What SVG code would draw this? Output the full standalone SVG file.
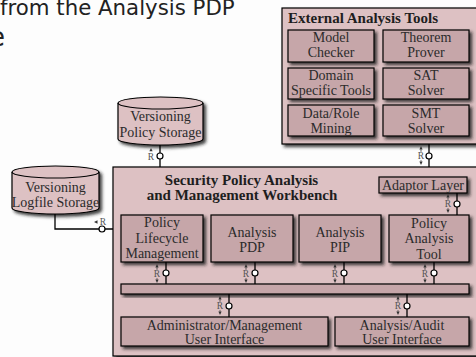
<svg xmlns="http://www.w3.org/2000/svg" xmlns:xlink="http://www.w3.org/1999/xlink" width="476" height="357" viewBox="0 0 476 357">
<style>
.outer{fill:#ddc1c3;stroke:#000;stroke-width:1.2}
.inner{fill:#c6a6a9;stroke:#000;stroke-width:1.2}
.t{font-family:"Liberation Serif",serif;font-size:14px;fill:#2b2b2b;text-anchor:middle}
.b{font-weight:bold;fill:#1e1e1e}
.cap{font-family:"DejaVu Sans",sans-serif;fill:#222}
.ln{fill:none;stroke:#000;stroke-width:1.3}
.port{fill:#fff;stroke:#000;stroke-width:1.2}
.rl{font-family:"Liberation Serif",serif;font-size:9.5px;fill:#555;text-anchor:middle}
.ah{fill:#333}
.st{stroke:#333;stroke-width:0.8}
</style>
<defs>
<filter id="sh" x="-10%" y="-10%" width="130%" height="150%">
<feDropShadow dx="2.5" dy="2.5" stdDeviation="1.4" flood-color="#1a1a1a" flood-opacity="0.85"/>
</filter>
<g id="rBi">
<text class="rl" x="0" y="3.3">R</text>
<path class="ah" d="M0,-10 L-1.6,-6.5 L1.6,-6.5 Z"/>
<line class="st" x1="0" y1="-6.5" x2="0" y2="-4.2"/>
<path class="ah" d="M0,9 L-1.6,5.5 L1.6,5.5 Z"/>
<line class="st" x1="0" y1="4.2" x2="0" y2="5.5"/>
</g>
<g id="rUp">
<text class="rl" x="0" y="3.3">R</text>
<path class="ah" d="M0,-9 L-1.6,-5.8 L1.6,-5.8 Z"/>
</g>
<g id="rLeft">
<text class="rl" x="0" y="3.3">R</text>
<path class="ah" d="M-9,0 L-5.5,-1.7 L-5.5,1.7 Z"/>
</g>
</defs>

<rect width="476" height="357" fill="#fdfdfd"/>

<g id="caption">
<text class="cap" x="0" y="15" font-size="21.3">from the Analysis PDP</text>
<text class="cap" x="5" y="46" font-size="26" text-anchor="end">e</text>
</g>

<g id="external-tools">
<rect class="outer" x="282" y="8" width="200" height="136" filter="url(#sh)"/>
<text class="t b" x="288" y="22.5" style="text-anchor:start;font-size:15px">External Analysis Tools</text>
</g>
<g id="model-checker">
<rect class="inner" x="288" y="30" width="86" height="32" filter="url(#sh)"/>
<text class="t" x="331" y="41.5">Model</text>
<text class="t" x="331" y="56.5">Checker</text>
</g>
<g id="theorem-prover">
<rect class="inner" x="383" y="30" width="86" height="32" filter="url(#sh)"/>
<text class="t" x="426" y="41.5">Theorem</text>
<text class="t" x="426" y="56.5">Prover</text>
</g>
<g id="domain-tools">
<rect class="inner" x="288" y="68" width="86" height="31" filter="url(#sh)"/>
<text class="t" x="331" y="79.5">Domain</text>
<text class="t" x="331" y="94.5">Specific Tools</text>
</g>
<g id="sat-solver">
<rect class="inner" x="383" y="68" width="86" height="31" filter="url(#sh)"/>
<text class="t" x="426" y="79.5">SAT</text>
<text class="t" x="426" y="94.5">Solver</text>
</g>
<g id="data-role-mining">
<rect class="inner" x="288" y="105" width="86" height="31" filter="url(#sh)"/>
<text class="t" x="331" y="117.5">Data/Role</text>
<text class="t" x="331" y="132.5">Mining</text>
</g>
<g id="smt-solver">
<rect class="inner" x="383" y="105" width="86" height="31" filter="url(#sh)"/>
<text class="t" x="426" y="117.5">SMT</text>
<text class="t" x="426" y="132.5">Solver</text>
</g>

<g id="policy-storage">
<path class="outer" d="M118,103 A42.5,6 0 0 1 203,103 L203,139 A42.5,6 0 0 1 118,139 Z" filter="url(#sh)"/>
<path class="ln" style="stroke-width:1.2" d="M118,103 A42.5,6 0 0 0 203,103"/>
<text class="t" x="160.5" y="121">Versioning</text>
<text class="t" x="160.5" y="136.5">Policy Storage</text>
</g>

<g id="logfile-storage">
<path class="outer" d="M12,172 A43.5,6 0 0 1 99,172 L99,208 A43.5,6 0 0 1 12,208 Z" filter="url(#sh)"/>
<path class="ln" style="stroke-width:1.2" d="M12,172 A43.5,6 0 0 0 99,172"/>
<text class="t" x="55.5" y="192">Versioning</text>
<text class="t" x="55.5" y="207">Logfile Storage</text>
</g>

<g id="workbench">
<rect class="outer" x="113" y="167" width="370" height="189" filter="url(#sh)"/>
<text class="t b" x="241.5" y="185" style="font-size:15px">Security Policy Analysis</text>
<text class="t b" x="242" y="200" style="font-size:15px">and Management Workbench</text>
</g>
<g id="adaptor-layer">
<rect class="inner" x="379" y="177" width="88" height="16" filter="url(#sh)"/>
<text class="t" x="423" y="189.5">Adaptor Layer</text>
</g>
<g id="policy-lifecycle">
<rect class="inner" x="121" y="215" width="82" height="47" filter="url(#sh)"/>
<text class="t" x="162" y="227">Policy</text>
<text class="t" x="162" y="242.5">Lifecycle</text>
<text class="t" x="162" y="258">Management</text>
</g>
<g id="analysis-pdp">
<rect class="inner" x="211" y="215" width="82" height="47" filter="url(#sh)"/>
<text class="t" x="252" y="236.5">Analysis</text>
<text class="t" x="252" y="251.5">PDP</text>
</g>
<g id="analysis-pip">
<rect class="inner" x="299" y="215" width="82" height="47" filter="url(#sh)"/>
<text class="t" x="340" y="236.5">Analysis</text>
<text class="t" x="340" y="251.5">PIP</text>
</g>
<g id="policy-analysis-tool">
<rect class="inner" x="389" y="215" width="80" height="47" filter="url(#sh)"/>
<text class="t" x="429" y="227.5">Policy</text>
<text class="t" x="429" y="243">Analysis</text>
<text class="t" x="429" y="258.5">Tool</text>
</g>
<g id="bus">
<rect class="inner" x="121" y="284" width="348" height="10" filter="url(#sh)"/>
</g>
<g id="admin-ui">
<rect class="inner" x="121" y="317" width="207" height="29" filter="url(#sh)"/>
<text class="t" x="224.5" y="330">Administrator/Management</text>
<text class="t" x="224.5" y="344">User Interface</text>
</g>
<g id="audit-ui">
<rect class="inner" x="335" y="317" width="134" height="29" filter="url(#sh)"/>
<text class="t" x="402" y="330">Analysis/Audit</text>
<text class="t" x="402" y="344">User Interface</text>
</g>

<g id="connectors">
<line class="ln" x1="160" y1="145" x2="160" y2="167"/>
<line class="ln" x1="429" y1="144" x2="429" y2="167"/>
<line class="ln" x1="457" y1="193" x2="457" y2="215"/>
<polyline class="ln" points="55,214 55,229 113,229"/>
<line class="ln" x1="166" y1="262" x2="166" y2="284"/>
<line class="ln" x1="255" y1="262" x2="255" y2="284"/>
<line class="ln" x1="344" y1="262" x2="344" y2="284"/>
<line class="ln" x1="434" y1="262" x2="434" y2="284"/>
<line class="ln" x1="229" y1="294" x2="229" y2="317"/>
<line class="ln" x1="407" y1="294" x2="407" y2="317"/>
<circle class="port" cx="160" cy="156" r="3"/>
<circle class="port" cx="429" cy="156" r="3"/>
<circle class="port" cx="457" cy="204" r="3"/>
<circle class="port" cx="102" cy="229" r="3"/>
<circle class="port" cx="166" cy="273" r="3"/>
<circle class="port" cx="255" cy="273" r="3"/>
<circle class="port" cx="344" cy="273" r="3"/>
<circle class="port" cx="434" cy="273" r="3"/>
<circle class="port" cx="229" cy="306" r="3"/>
<circle class="port" cx="407" cy="306" r="3"/>
<use xlink:href="#rUp" transform="translate(151,157)"/>
<use xlink:href="#rBi" transform="translate(421,156)"/>
<use xlink:href="#rBi" transform="translate(448,204)"/>
<use xlink:href="#rLeft" transform="translate(103,222)"/>
<use xlink:href="#rBi" transform="translate(157,274)"/>
<use xlink:href="#rBi" transform="translate(246,274)"/>
<use xlink:href="#rBi" transform="translate(335,274)"/>
<use xlink:href="#rBi" transform="translate(425,274)"/>
<use xlink:href="#rBi" transform="translate(220,306)"/>
<use xlink:href="#rBi" transform="translate(398,306)"/>
</g>
</svg>
